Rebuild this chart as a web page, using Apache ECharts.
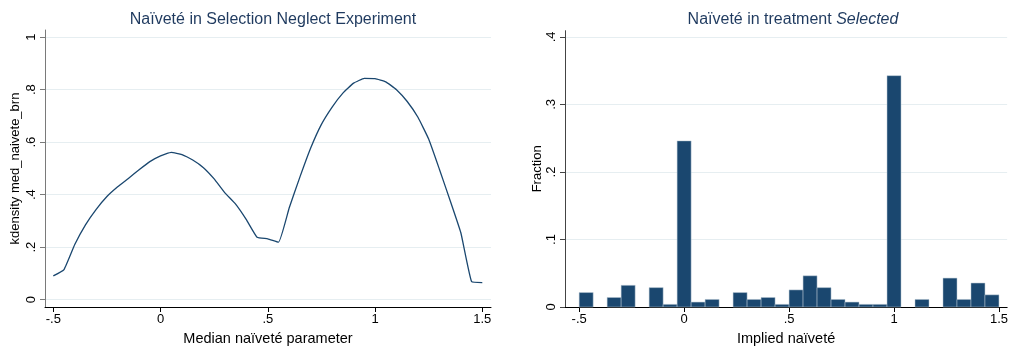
<!DOCTYPE html>
<html>
<head>
<meta charset="utf-8">
<title>Naïveté</title>
<script src="https://cdn.jsdelivr.net/npm/echarts@6/dist/echarts.min.js"></script>
<style>
  html, body { margin: 0; padding: 0; background: #fff; }
  #chart { width: 1011px; height: 351px; }
</style>
</head>
<body>
<div id="chart"></div>
<script>
// Kernel density of the median naïveté parameter (evaluation grid and density)
const densityX = [-0.5, -0.45, -0.4, -0.35, -0.3, -0.25, -0.2, -0.15, -0.1, -0.05,
  0, 0.05, 0.1, 0.15, 0.2, 0.25, 0.3, 0.35, 0.4, 0.45,
  0.5, 0.55, 0.6, 0.65, 0.7, 0.75, 0.8, 0.85, 0.9, 0.95,
  1, 1.05, 1.1, 1.15, 1.2, 1.25, 1.3, 1.35, 1.4, 1.45, 1.5];
const densityY = [0.091, 0.115, 0.210, 0.285, 0.344, 0.393, 0.430, 0.462, 0.495, 0.526,
  0.548, 0.561, 0.553, 0.532, 0.503, 0.460, 0.407, 0.364, 0.305, 0.238,
  0.232, 0.219, 0.350, 0.468, 0.578, 0.668, 0.734, 0.787, 0.825, 0.843,
  0.842, 0.830, 0.800, 0.755, 0.695, 0.612, 0.497, 0.378, 0.255, 0.069, 0.065];

// Histogram of implied naïveté in treatment Selected: 30 bins on [-0.5, 1.5]
const binStart = -0.5;
const binWidth = 1 / 15;
const fractions = [0.0214, 0, 0.0141, 0.0321, 0, 0.0287, 0.0039, 0.2460, 0.0073, 0.0112,
  0, 0.0214, 0.0112, 0.0141, 0.0039, 0.0253, 0.0462, 0.0287, 0.0112, 0.0073,
  0.0039, 0.0039, 0.3426, 0, 0.0112, 0, 0.0428, 0.0112, 0.0355, 0.0180];

// Tick positions
const xTicks = [-0.5, 0, 0.5, 1, 1.5];
const yTicksLeft = [0, 0.2, 0.4, 0.6, 0.8, 1];
const yTicksRight = [0, 0.1, 0.2, 0.3, 0.4];

const FONT = '"Liberation Sans", Arial, Helvetica, sans-serif';
const NAVY = '#1a476f';
const TITLE = '#1f3a5f';
const GRIDLINE = '#e6eef1';

// Stata-style number labels: ".5", "-.5"
const fmt = v => {
  const r = Math.round(v * 1000) / 1000;
  return String(r).replace(/^(-?)0\./, '$1.');
};

function xAxis(gridIndex, min, max, name) {
  return {
    type: 'value', gridIndex, min, max,
    name, nameLocation: 'middle', nameGap: 24,
    nameTextStyle: { fontFamily: FONT, fontSize: 14.5, color: '#000' },
    axisLine: { show: true, onZero: false, lineStyle: { color: '#000', width: 1 } },
    axisTick: { show: true, length: 5, customValues: xTicks, lineStyle: { color: '#000' } },
    axisLabel: { customValues: xTicks, formatter: fmt, fontFamily: FONT, fontSize: 13, color: '#000', margin: 6 },
    splitLine: { show: false }
  };
}

function yAxis(gridIndex, min, max, ticks, name, nameGap, lineColor) {
  return {
    type: 'value', gridIndex, min, max,
    name, nameLocation: 'middle', nameGap,
    nameTextStyle: { fontFamily: FONT, fontSize: 13, color: '#000' },
    axisLine: { show: true, onZero: false, lineStyle: { color: lineColor, width: 1 } },
    axisTick: { show: true, length: 5, customValues: ticks, lineStyle: { color: lineColor } },
    axisLabel: { customValues: ticks, formatter: fmt, rotate: 90, fontFamily: FONT, fontSize: 13, color: '#000', margin: 7 },
    splitLine: { show: true, lineStyle: { color: GRIDLINE, width: 1 } }
  };
}

const chart = echarts.init(document.getElementById('chart'), null, { renderer: 'canvas' });

chart.setOption({
  backgroundColor: '#fff',
  animation: false,
  title: [
    {
      text: 'Naïveté in Selection Neglect Experiment',
      left: 268, top: 7, textAlign: 'center',
      textStyle: { fontFamily: FONT, fontSize: 16, fontWeight: 'normal', color: TITLE }
    },
    {
      text: '{n|Naïveté in treatment }{i|Selected}',
      left: 788, top: 7, textAlign: 'center',
      textStyle: {
        fontFamily: FONT, fontSize: 16, fontWeight: 'normal', color: TITLE,
        rich: {
          n: { fontFamily: FONT, fontSize: 16, color: TITLE },
          i: { fontFamily: FONT, fontSize: 16, color: TITLE, fontStyle: 'italic' }
        }
      }
    }
  ],
  grid: [
    { left: 45, top: 30, width: 446, height: 280.7 },
    { left: 565, top: 30.7, width: 446, height: 280.3 }
  ],
  xAxis: [
    xAxis(0, -0.5387, 1.5406, 'Median naïveté parameter'),
    xAxis(1, -0.5675, 1.539, 'Implied naïveté')
  ],
  yAxis: [
    yAxis(0, -0.0278, 1.0274, yTicksLeft, 'kdensity med_naivete_brn', 23, '#7a7a7a'),
    yAxis(1, 0, 0.4092, yTicksRight, 'Fraction', 21, '#444')
  ],
  series: [
    {
      type: 'line',
      xAxisIndex: 0, yAxisIndex: 0,
      data: densityX.map((x, i) => [x, densityY[i]]),
      showSymbol: false,
      smooth: 0.12,
      lineStyle: { color: NAVY, width: 1.3, join: 'round' }
    },
    {
      type: 'custom',
      xAxisIndex: 1, yAxisIndex: 1,
      data: fractions.map((f, i) => [binStart + i * binWidth, binStart + (i + 1) * binWidth, f]),
      encode: { x: [0, 1], y: 2 },
      renderItem: (params, api) => {
        const v = api.value(2);
        if (!v) return null;
        const p0 = api.coord([api.value(0), v]);
        const p1 = api.coord([api.value(1), 0]);
        return {
          type: 'rect',
          shape: { x: p0[0], y: p0[1], width: p1[0] - p0[0], height: p1[1] - p0[1] },
          style: { fill: NAVY, stroke: '#b7c6d3', lineWidth: 0.5 }
        };
      }
    }
  ]
});
</script>
</body>
</html>
